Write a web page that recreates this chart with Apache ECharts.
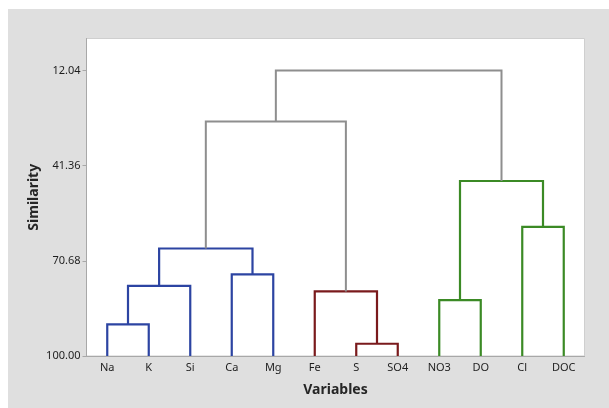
<!DOCTYPE html>
<html>
<head>
<meta charset="utf-8">
<title>Dendrogram</title>
<script src="https://cdn.jsdelivr.net/npm/echarts@6/dist/echarts.min.js"></script>
<style>
  html, body { margin: 0; padding: 0; background: #ffffff; }
  #chart { width: 609px; height: 408px; }
</style>
</head>
<body>
<div id="chart"></div>
<script>
// Variables (leaves of the dendrogram), left to right
const variables = ['Na', 'K', 'Si', 'Ca', 'Mg', 'Fe', 'S', 'SO4', 'NO3', 'DO', 'Cl', 'DOC'];

// Agglomeration steps: cluster cN joins mergeLeft[N-1] and mergeRight[N-1] at similarity[N-1]
const clusterIds = ['c1', 'c2', 'c3', 'c4', 'c5', 'c6', 'c7', 'c8', 'c9', 'c10', 'c11'];
const mergeLeft  = ['Na', 'c1', 'Ca', 'c2', 'S',   'Fe', 'NO3', 'Cl',  'c7', 'c4', 'c10'];
const mergeRight = ['K',  'Si', 'Mg', 'c3', 'SO4', 'c5', 'DO',  'DOC', 'c8', 'c6', 'c9'];
const similarity = [90.25, 78.38, 74.87, 66.88, 96.22, 80.10, 82.78, 60.23, 46.09, 27.73, 12.04];
const linkGroup  = ['blue', 'blue', 'blue', 'blue', 'red', 'red', 'green', 'green', 'green', 'gray', 'gray'];

// Similarity axis tick values
const similarityTicks = [12.04, 41.36, 70.68, 100.00];

const groupColors = { blue: '#2c44a2', red: '#7a1a1c', green: '#3b8a25', gray: '#8e8e8e' };

// Resolve each node's horizontal position (leaf index / midpoint) and height
const nodeX = {}, nodeH = {};
variables.forEach((v, i) => { nodeX[v] = i; nodeH[v] = 100; });
const links = clusterIds.map((id, i) => {
  const l = mergeLeft[i], r = mergeRight[i];
  nodeX[id] = (nodeX[l] + nodeX[r]) / 2;
  nodeH[id] = similarity[i];
  return [nodeX[l], nodeX[r], nodeH[l], nodeH[r], similarity[i], linkGroup[i]];
});

const FONT = '"Noto Sans", "Open Sans", sans-serif';
const chart = echarts.init(document.getElementById('chart'), null, { renderer: 'canvas' });

chart.setOption({
  animation: false,
  backgroundColor: '#ffffff',
  graphic: [{
    type: 'rect', z: -10, silent: true,
    shape: { x: 8, y: 9, width: 601, height: 399 },
    style: { fill: '#dfdfdf' }
  }],
  grid: {
    left: 86.5, top: 38.5, right: 24.5, bottom: 52,
    show: true, backgroundColor: '#ffffff', borderColor: '#cfcfcf', borderWidth: 1
  },
  xAxis: [{
    type: 'category',
    data: variables,
    boundaryGap: true,
    name: 'Variables',
    nameLocation: 'middle',
    nameGap: 27,
    nameMoveOverlap: false,
    nameTextStyle: { fontFamily: FONT, fontSize: 14, fontWeight: 'bold', color: '#262626' },
    axisLine: { onZero: false, lineStyle: { color: '#a8a8a8', width: 1 } },
    axisTick: { alignWithLabel: true, length: 3, lineStyle: { color: '#a8a8a8' } },
    axisLabel: { fontFamily: FONT, fontSize: 11, color: '#1e1e1e', margin: 6, interval: 0 },
    splitLine: { show: false }
  }, {
    type: 'value',
    min: -0.5, max: 11.5,
    show: false,
    splitLine: { show: false }
  }],
  yAxis: {
    type: 'value',
    inverse: true,
    min: 2.2, max: 100,
    name: 'Similarity',
    nameLocation: 'middle',
    nameGap: 45,
    nameMoveOverlap: false,
    nameRotate: 90,
    nameTextStyle: { fontFamily: FONT, fontSize: 14, fontWeight: 'bold', color: '#262626' },
    axisLine: { show: true, onZero: false, lineStyle: { color: '#a8a8a8', width: 1 } },
    axisTick: { show: true, length: 4, customValues: similarityTicks, lineStyle: { color: '#a8a8a8' } },
    axisLabel: {
      fontFamily: FONT, fontSize: 11, color: '#1e1e1e', margin: 6,
      customValues: similarityTicks,
      formatter: v => v.toFixed(2)
    },
    splitLine: { show: false }
  },
  series: [{
    type: 'custom',
    xAxisIndex: 1,
    yAxisIndex: 0,
    data: links,
    encode: { x: [0, 1], y: [2, 3, 4] },
    renderItem: function (params, api) {
      const d = links[params.dataIndex];
      const p1 = api.coord([d[0], d[2]]);
      const p2 = api.coord([d[0], d[4]]);
      const p3 = api.coord([d[1], d[4]]);
      const p4 = api.coord([d[1], d[3]]);
      return {
        type: 'polyline',
        shape: { points: [p1, p2, p3, p4] },
        style: {
          fill: 'none',
          stroke: groupColors[d[5]],
          lineWidth: d[5] === 'gray' ? 2 : 2.2,
          lineJoin: 'miter'
        }
      };
    }
  }]
});
</script>
</body>
</html>
